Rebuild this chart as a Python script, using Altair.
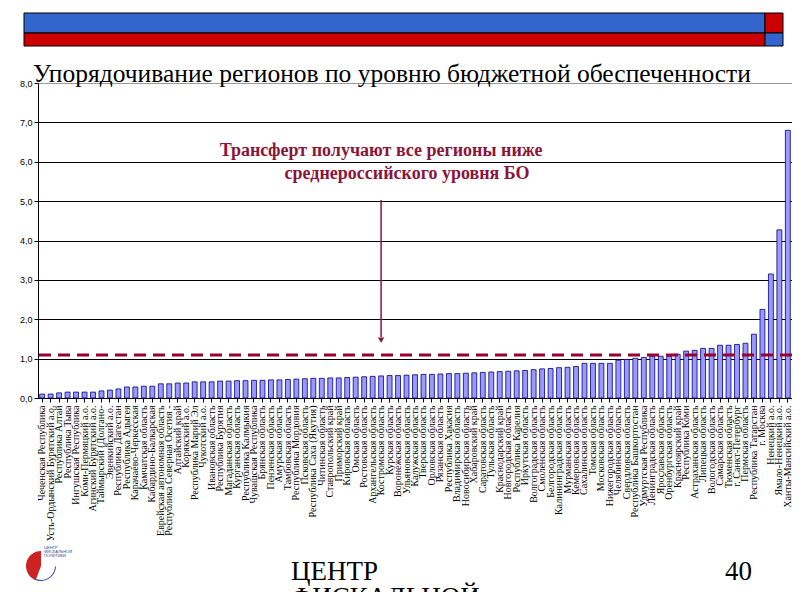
import math
import altair as alt
import pandas as pd

regions = [
    "Чеченская Республика", "Усть-Ордынский Бурятский а.о.", "Республика Алтай",
    "Республика Тыва", "Ингушская Республика", "Коми-Пермяцкий а.о.",
    "Агинский Бурятский а.о.", "Таймырский (Долгано-", "Эвенкийский а.о.",
    "Республика Дагестан", "Республика Адыгея", "Карачаево-Черкесская",
    "Камчатская область", "Кабардино-Балкарская", "Еврейская автономная область",
    "Республика Северная Осетия -", "Алтайский край", "Корякский а.о.",
    "Республика Марий Эл", "Чукотский а.о.", "Ивановская область",
    "Республика Бурятия", "Магаданская область", "Курганская область",
    "Республика Калмыкия", "Чувашская Республика", "Брянская область",
    "Пензенская область", "Амурская область", "Тамбовская область",
    "Республика Мордовия", "Псковская область", "Республика Саха (Якутия)",
    "Читинская область", "Ставропольский край", "Приморский край",
    "Кировская область", "Омская область", "Ростовская область",
    "Архангельская область", "Костромская область", "Курская область",
    "Воронежская область", "Ульяновская область", "Калужская область",
    "Тверская область", "Орловская область", "Рязанская область",
    "Республика Хакасия", "Владимирская область", "Новосибирская область",
    "Хабаровский край", "Саратовская область", "Тульская область",
    "Краснодарский край", "Новгородская область", "Республика Карелия",
    "Иркутская область", "Волгоградская область", "Смоленская область",
    "Белгородская область", "Калининградская область", "Мурманская область",
    "Кемеровская область", "Сахалинская область", "Томская область",
    "Московская область", "Нижегородская область", "Челябинская область",
    "Свердловская область", "Республика Башкортостан", "Удмуртская Республика",
    "Ленинградская область", "Ярославская область", "Оренбургская область",
    "Красноярский край", "Республика Коми", "Астраханская область",
    "Липецкая область", "Вологодская область", "Самарская область",
    "Тюменская область", "г. Санкт-Петербург", "Пермская область",
    "Республика Татарстан", "г. Москва", "Ненецкий а.о.",
    "Ямало-Ненецкий а.о.", "Ханты-Мансийский а.о.",
]

values = [
    0.10, 0.10, 0.13, 0.15, 0.15, 0.15, 0.15, 0.18, 0.20, 0.23,
    0.28, 0.28, 0.30, 0.30, 0.36, 0.36, 0.38, 0.38, 0.41, 0.41,
    0.41, 0.43, 0.43,
    0.44, 0.44, 0.45, 0.45, 0.46, 0.46, 0.47, 0.48, 0.49, 0.50,
    0.50, 0.51, 0.51, 0.52, 0.53, 0.54, 0.55, 0.56, 0.57, 0.57,
    0.58, 0.59, 0.60, 0.60, 0.61, 0.62, 0.62, 0.63, 0.64, 0.65,
    0.66, 0.67, 0.68, 0.69, 0.70, 0.72, 0.74, 0.75, 0.77,
    0.78, 0.80, 0.88, 0.88, 0.88, 0.88, 0.96, 0.98, 1.01, 1.03,
    1.06, 1.06, 1.06, 1.11, 1.19, 1.21, 1.26, 1.26, 1.34, 1.34,
    1.36, 1.39, 1.62, 2.25, 3.15, 4.27, 6.80,
]

avg_level = [1.09]
y_ticks = [0, 1, 2, 3, 4, 5, 6, 7, 8]

title_text = "Упорядочивание регионов по уровню бюджетной обеспеченности"
note_line1 = "Трансферт получают все регионы ниже"
note_line2 = "среднероссийского уровня БО"
arrow_region = ["Костромская область"]
arrow_top = [5.03]
arrow_bottom = [1.55]
arrow_head = [1.47]
note_y = [6.14, 5.56]
logo_lines = ["ЦЕНТР", "ФИСКАЛЬНОЙ", "ПОЛИТИКИ"]

W, H = 754, 315
RED = "#8B1538"
SERIF = "Times New Roman, Liberation Serif, serif"
SANS = "Arial, Liberation Sans, sans-serif"

df = pd.DataFrame({"region": regions, "value": values})
one = pd.DataFrame({"a": [0]})

x_axis = alt.Axis(
    title=None, labelAngle=-90, labelFont=SERIF, labelFontSize=10,
    labelColor="black", labelLimit=170, labelPadding=3, tickSize=4,
    tickColor="black", domainColor="black", labelOverlap=False,
)
y_axis = alt.Axis(
    title=None, values=y_ticks, tickCount=9,
    labelExpr="replace(format(datum.value, '.1f'), '.', ',')",
    labelFont=SANS, labelFontSize=9, labelColor="black", labelOverlap=False,
    tickSize=4, tickColor="black", domainColor="black",
    grid=True, gridWidth=1,
    gridColor={"condition": {"test": "datum.value >= 8", "value": "#999999"}, "value": "black"},
)
x_scale = alt.Scale(domain=regions, paddingInner=0.42, paddingOuter=0.2)
y_scale = alt.Scale(domain=[0, 8], nice=False)

x_enc = alt.X("region:N", sort=None, scale=x_scale, axis=x_axis, title=None)
y_enc = alt.Y("value:Q", scale=y_scale, axis=y_axis, title=None)

bars = alt.Chart(df).mark_bar(color="#9999FF", stroke="#000080", strokeWidth=0.8).encode(x=x_enc, y=y_enc)

avg = alt.Chart(pd.DataFrame({"value": avg_level})).mark_rule(
    color="#990033", strokeWidth=3, strokeDash=[12, 7]
).encode(y=y_enc)

arrow_df = pd.DataFrame({"region": arrow_region, "value": arrow_top, "value2": arrow_bottom})
arrow = alt.Chart(arrow_df).mark_rule(color=RED, strokeWidth=1.5).encode(
    x=x_enc, y=y_enc, y2="value2:Q"
)
head_df = pd.DataFrame({"region": arrow_region, "value": arrow_head})
head = alt.Chart(head_df).mark_point(shape="triangle-down", filled=True, size=40, color=RED, opacity=1).encode(
    x=x_enc, y=y_enc
)

n1 = alt.Chart(pd.DataFrame({"region": arrow_region, "value": [note_y[0]], "t": [note_line1]})).mark_text(
    font=SERIF, fontSize=18, fontWeight="bold", color=RED, align="center", baseline="alphabetic"
).encode(x=x_enc, y=y_enc, text="t:N")
n2 = alt.Chart(pd.DataFrame({"region": arrow_region, "value": [note_y[1]], "t": [note_line2]})).mark_text(
    font=SERIF, fontSize=18, fontWeight="bold", color=RED, align="center", baseline="alphabetic", dx=26
).encode(x=x_enc, y=y_enc, text="t:N")

# slide decorations (outside the plot)
def rect(x1, x2, y1, y2, fill):
    return alt.Chart(one).mark_rect(fill=fill, stroke="black", strokeWidth=1).encode(
        x=alt.value(x1), x2=alt.value(x2), y=alt.value(y1), y2=alt.value(y2)
    )

banner = (
    rect(-14, 727, -70, -50, "#3366CC")
    + rect(-14, 727, -50, -37, "#CC0000")
    + rect(727, 745, -70, -50, "#CC0000")
    + rect(727, 745, -50, -37, "#3366CC")
)

title = alt.Chart(one).mark_text(
    text=title_text, font=SERIF, fontSize=25.5, align="left", baseline="alphabetic", color="black"
).encode(x=alt.value(-5), y=alt.value(-1))

centr = alt.Chart(one).mark_text(
    text="ЦЕНТР", font=SERIF, fontSize=27, align="left", baseline="alphabetic", color="black"
).encode(x=alt.value(253), y=alt.value(497))
fisk = alt.Chart(one).mark_text(
    text="ФИСКАЛЬНОЙ", font=SERIF, fontSize=27, align="left", baseline="alphabetic", color="black"
).encode(x=alt.value(253), y=alt.value(523))
page = alt.Chart(one).mark_text(
    text="40", font=SERIF, fontSize=27, align="right", baseline="alphabetic", color="black"
).encode(x=alt.value(714), y=alt.value(497))

logo_red = alt.Chart(one).mark_arc(
    fill="#CC2222", radius=15, theta=3.5, theta2=2 * math.pi
).encode(x=alt.value(3), y=alt.value(483))
logo_ring = alt.Chart(one).mark_arc(
    fill="#334488", radius=15, radius2=14, theta=1.6, theta2=3.6
).encode(x=alt.value(3), y=alt.value(483))
logo_text = alt.Chart(pd.DataFrame({"t": logo_lines, "yy": [466, 470, 474]})).mark_text(
    font=SANS, fontSize=4, align="left", baseline="alphabetic", color="#334488"
).encode(x=alt.value(6), y=alt.Y("yy:Q", scale=None, axis=None), text="t:N")

chart = alt.layer(
    bars, avg, arrow, head, n1, n2, banner, title, centr, fisk, page, logo_red, logo_ring, logo_text
).properties(
    width=W, height=H,
    padding={"left": 30, "top": 75, "right": 0, "bottom": 194},
    autosize="none",
    background="white",
).configure_view(stroke="#999999", strokeWidth=1)

chart.save("out.html", embed_options={"renderer": "svg", "actions": False})
